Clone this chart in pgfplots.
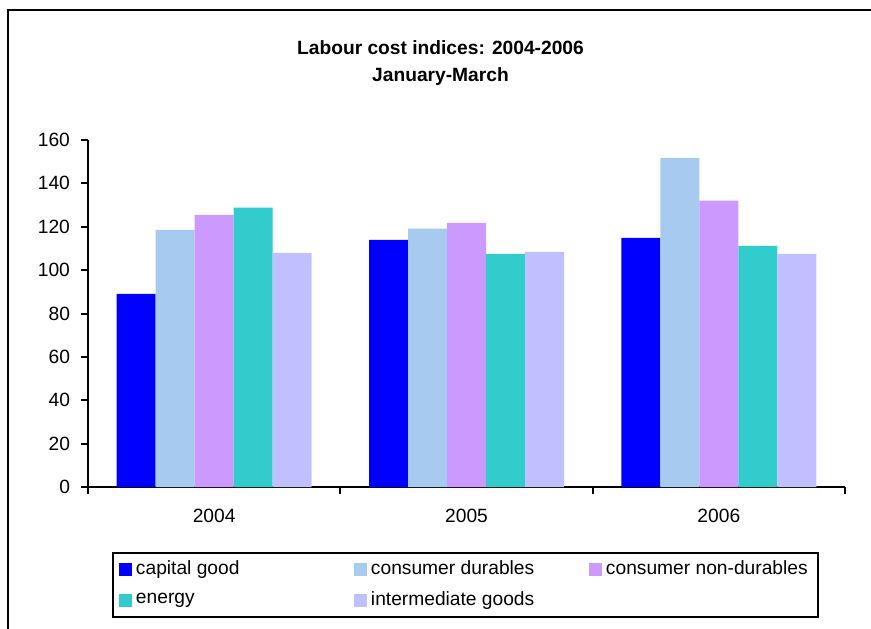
\documentclass[border=0pt]{standalone}
\usepackage{pgfplots}
\pgfplotsset{compat=1.18}
\usepackage{fontspec}
\setmainfont{Liberation Sans}

\definecolor{capgood}{HTML}{0000FF}
\definecolor{condur}{HTML}{A6CAF0}
\definecolor{connondur}{HTML}{CC99FF}
\definecolor{energy}{HTML}{33CCCC}
\definecolor{intgood}{HTML}{C0C0FF}

\begin{document}
\begin{tikzpicture}
\useasboundingbox (0,0) rectangle (435.5pt,314pt);
% frame of the chart area (bottom and right edges fall outside the picture)
\draw[line width=1pt] (3.75pt,-2pt) -- (3.75pt,308.75pt) -- (440pt,308.75pt);
\node[align=center, font=\fontsize{9.6}{13.5}\selectfont\bfseries] at (220.25pt,282.25pt)
  {Labour cost indices: 2004-2006\\January-March};
\begin{axis}[
    at={(44pt,70.5pt)}, anchor=south west,
    scale only axis, width=378.5pt, height=173.5pt,
    font=\fontsize{9.6}{11.5}\selectfont,
    /pgf/number format/assume math mode=true,
    ybar=0pt, bar width=19.5pt,
    xmin=-0.5, xmax=2.5, ymin=0, ymax=160,
    axis lines*=left,
    axis line style={line width=1pt},
    xtick={-0.5,0.5,1.5,2.5}, xticklabels={},
    extra x ticks={0,1,2}, extra x tick labels={2004,2005,2006},
    extra x tick style={tick style={draw=none}},
    ytick={0,20,...,160},
    tick align=outside,
    major tick length=3.5pt,
    tick style={line width=1pt, black},
    xticklabel style={yshift=-4pt},
    yticklabel style={xshift=-2pt},
    legend columns=3,
    legend style={at={(0.0317,-0.187)}, anchor=north west,
        draw=black, line width=1pt, inner xsep=3pt, inner ysep=2pt,
        font=\fontsize{9.6}{11.5}\selectfont,
        row sep=3pt,
        cells={anchor=west}},
    legend image code/.code={\fill[#1] (0pt,-3.2pt) rectangle (6.5pt,3.2pt);},
]
\addplot[fill=capgood, draw=none] coordinates {(0,89.1) (1,114.0) (2,114.9)};
\addlegendentry{\makebox[107pt][l]{capital good}}
\addplot[fill=condur, draw=none] coordinates {(0,118.6) (1,119.1) (2,151.8)};
\addlegendentry{\makebox[107pt][l]{consumer durables}}
\addplot[fill=connondur, draw=none] coordinates {(0,125.5) (1,121.8) (2,132.0)};
\addlegendentry{consumer non-durables}
\addplot[fill=energy, draw=none] coordinates {(0,128.8) (1,107.5) (2,111.2)};
\addlegendentry{\makebox[107pt][l]{energy}}
\addplot[fill=intgood, draw=none] coordinates {(0,108.0) (1,108.4) (2,107.5)};
\addlegendentry{\makebox[107pt][l]{intermediate goods}}
\end{axis}
\end{tikzpicture}
\end{document}
